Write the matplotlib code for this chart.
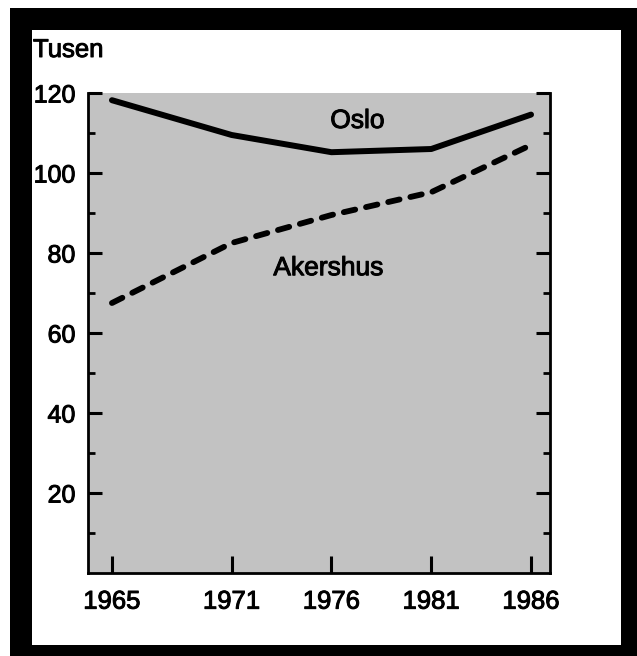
import matplotlib
matplotlib.use("Agg")
import matplotlib.pyplot as plt
import matplotlib.patheffects as pe
from matplotlib.patches import Rectangle
from matplotlib.ticker import FixedLocator

years = [1965, 1971, 1976, 1981, 1986]
oslo = [118.2, 109.5, 105.2, 106.0, 114.6]
akershus = [67.5, 82.5, 89.5, 95.2, 107.0]
year_labels = ["1965", "1971", "1976", "1981", "1986"]
y_ticks = [20, 40, 60, 80, 100, 120]
unit_label = "Tusen"
series_labels = ["Oslo", "Akershus"]

W, H = 637, 656
fig = plt.figure(figsize=(W / 100, H / 100), dpi=100)
plt.rcParams['font.family'] = ['Liberation Sans', 'DejaVu Sans']
heavy = [pe.withStroke(linewidth=0.7, foreground='black')]

# black frame and white inner panel
fig.patches.append(Rectangle((10 / W, 0), 1 - 10 / W, (H - 8) / H, transform=fig.transFigure,
                             facecolor='black', edgecolor='none', zorder=-3))
fig.patches.append(Rectangle((32 / W, (H - 645) / H), (621 - 32) / W, (645 - 30) / H,
                             transform=fig.transFigure, facecolor='white', edgecolor='none', zorder=-2))

ax = fig.add_axes([88 / W, (H - 573) / H, (550 - 88) / W, (573 - 93) / H])
ax.set_facecolor('#c2c2c2')
ax.set_xlim(1963.8, 1986.95)
ax.set_ylim(0, 120)

ax.plot(years, oslo, color='black', lw=4.3, solid_capstyle='round', solid_joinstyle='round')
ax.plot(years, akershus, color='black', lw=4.2, linestyle=(0, (2.0, 1.9)),
        dash_capstyle='round', dash_joinstyle='round')

ax.text(1977.3, 113, series_labels[0], fontsize=19, ha='center', va='center', path_effects=heavy)
ax.text(1975.85, 76.2, series_labels[1], fontsize=19, ha='center', va='center', path_effects=heavy)

for s in ['left', 'right', 'bottom']:
    ax.spines[s].set_linewidth(2.0)
ax.spines['top'].set_visible(False)

ax.xaxis.set_major_locator(FixedLocator(years))
ax.set_xticklabels(year_labels)
ax.yaxis.set_major_locator(FixedLocator(y_ticks))
ax.yaxis.set_minor_locator(FixedLocator([10, 30, 50, 70, 90, 110]))
ax.set_yticklabels([str(v) for v in y_ticks])

ax.tick_params(axis='x', which='major', direction='in', length=12, width=2.2,
               labelsize=18.5, pad=12, top=False)
ax.tick_params(axis='y', which='major', direction='in', length=10, width=2.2,
               labelsize=18, pad=9, right=True)
ax.tick_params(axis='y', which='minor', direction='in', length=5, width=2.0, right=True)
for lbl in ax.get_xticklabels() + ax.get_yticklabels():
    lbl.set_path_effects(heavy)

fig.text(33 / W, (H - 57) / H, unit_label, fontsize=18.5, ha='left', va='baseline', path_effects=heavy)

fig.savefig('out.png', dpi=100, facecolor='white')
